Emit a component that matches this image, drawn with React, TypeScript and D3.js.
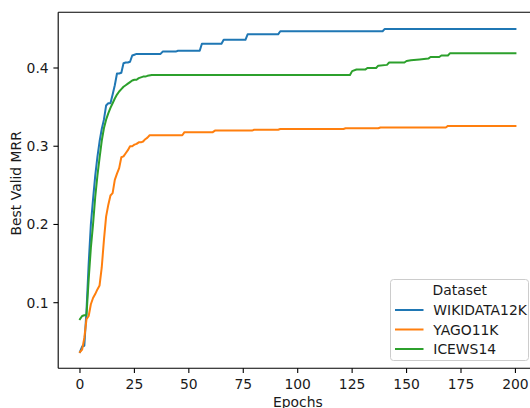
import { useEffect, useRef } from 'react'
import * as d3 from 'd3'

const WIDTH = 530
const HEIGHT = 408
const FONT = "'DejaVu Sans', sans-serif"
const FS = 13.9

// best valid MRR per epoch (step points)
const wikiEpochs = [0, 1, 2, 3, 4, 5, 6, 7, 8, 9, 10, 11, 12, 13, 14, 15, 16, 17, 18, 19, 20, 21, 22, 23, 24, 25, 26, 37, 38, 44, 45, 55, 56, 65, 66, 76, 77, 91, 92, 139, 140, 200]
const wikiValues = [0.037, 0.044, 0.045, 0.09, 0.15, 0.2, 0.232, 0.262, 0.286, 0.306, 0.322, 0.334, 0.352, 0.355, 0.355, 0.366, 0.378, 0.393, 0.393, 0.394, 0.406, 0.407, 0.407, 0.408, 0.416, 0.417, 0.418, 0.418, 0.421, 0.421, 0.422, 0.422, 0.431, 0.431, 0.436, 0.436, 0.443, 0.443, 0.447, 0.447, 0.45, 0.45]

const yagoEpochs = [0, 1, 2, 3, 4, 5, 6, 7, 8, 9, 10, 11, 12, 13, 14, 15, 16, 17, 18, 19, 20, 21, 22, 23, 24, 25, 26, 27, 28, 29, 30, 31, 32, 47, 48, 61, 62, 79, 80, 91, 92, 121, 122, 137, 138, 168, 169, 200]
const yagoValues = [0.037, 0.04, 0.055, 0.079, 0.083, 0.098, 0.106, 0.111, 0.117, 0.122, 0.145, 0.18, 0.21, 0.225, 0.237, 0.24, 0.257, 0.265, 0.272, 0.286, 0.287, 0.291, 0.295, 0.3, 0.3, 0.302, 0.303, 0.305, 0.305, 0.306, 0.309, 0.311, 0.314, 0.314, 0.318, 0.318, 0.32, 0.32, 0.321, 0.321, 0.322, 0.322, 0.323, 0.323, 0.324, 0.324, 0.326, 0.326]

const icewsEpochs = [0, 1, 2, 3, 4, 5, 6, 7, 8, 9, 10, 11, 12, 13, 14, 15, 16, 17, 18, 19, 20, 21, 22, 23, 24, 25, 26, 27, 28, 29, 30, 31, 33, 124, 125, 127, 131, 132, 136, 137, 141, 142, 149, 150, 152, 156, 160, 161, 165, 166, 169, 170, 200]
const icewsValues = [0.079, 0.083, 0.084, 0.084, 0.13, 0.17, 0.2, 0.235, 0.262, 0.285, 0.307, 0.323, 0.334, 0.342, 0.349, 0.355, 0.361, 0.366, 0.37, 0.373, 0.376, 0.378, 0.38, 0.382, 0.384, 0.385, 0.385, 0.387, 0.388, 0.389, 0.389, 0.39, 0.391, 0.391, 0.396, 0.398, 0.398, 0.4, 0.4, 0.403, 0.404, 0.407, 0.407, 0.409, 0.41, 0.411, 0.412, 0.414, 0.414, 0.416, 0.416, 0.419, 0.419]

const datasetNames = ['WIKIDATA12K', 'YAGO11K', 'ICEWS14']
const datasetColors = ['#1f77b4', '#ff7f0e', '#2ca02c']

const xTicks = [0, 25, 50, 75, 100, 125, 150, 175, 200]
const yTicks = [0.1, 0.2, 0.3, 0.4]

export default function App() {
  const svgRef = useRef<SVGSVGElement>(null)

  useEffect(() => {
    if (!svgRef.current) return
    const svg = d3.select(svgRef.current)
    svg.selectAll('*').remove()

    const x = d3.scaleLinear().domain([-10, 210]).range([58.2, 537.2])
    const y = d3.scaleLinear().domain([0.1, 0.4]).range([302.7, 68])
    const left = x(-10)
    const right = x(210)
    const top = 12.3
    const bottom = 368.3

    svg.append('rect').attr('width', WIDTH).attr('height', HEIGHT).attr('fill', 'white')

    const series = [
      { epochs: wikiEpochs, values: wikiValues },
      { epochs: yagoEpochs, values: yagoValues },
      { epochs: icewsEpochs, values: icewsValues },
    ]

    const line = d3.line<[number, number]>()
      .x(d => x(d[0]))
      .y(d => y(d[1]))

    series.forEach((s, i) => {
      const pts = s.epochs.map((e, j) => [e, s.values[j]] as [number, number])
      svg.append('path')
        .attr('d', line(pts))
        .attr('fill', 'none')
        .attr('stroke', datasetColors[i])
        .attr('stroke-width', 2)
        .attr('stroke-linejoin', 'round')
        .attr('stroke-linecap', 'square')
    })

    // spines
    const spines = svg.append('g').attr('stroke', 'black').attr('stroke-width', 1.1).attr('fill', 'none')
    spines.append('line').attr('x1', left).attr('x2', left).attr('y1', top).attr('y2', bottom)
    spines.append('line').attr('x1', left).attr('x2', right).attr('y1', bottom).attr('y2', bottom)
    spines.append('line').attr('x1', left).attr('x2', right).attr('y1', top).attr('y2', top)

    // x ticks
    const xg = svg.append('g')
    xTicks.forEach(t => {
      xg.append('line').attr('x1', x(t)).attr('x2', x(t)).attr('y1', bottom).attr('y2', bottom + 4.8)
        .attr('stroke', 'black').attr('stroke-width', 1.1)
      xg.append('text').attr('x', x(t)).attr('y', bottom + 20.5).attr('text-anchor', 'middle')
        .attr('font-family', FONT).attr('font-size', FS).attr('fill', '#1a1a1a').text(t)
    })

    // y ticks
    const yg = svg.append('g')
    yTicks.forEach(t => {
      yg.append('line').attr('x1', left - 4.8).attr('x2', left).attr('y1', y(t)).attr('y2', y(t))
        .attr('stroke', 'black').attr('stroke-width', 1.1)
      yg.append('text').attr('x', left - 9.5).attr('y', y(t)).attr('dy', '0.36em').attr('text-anchor', 'end')
        .attr('font-family', FONT).attr('font-size', FS).attr('fill', '#1a1a1a').text(d3.format('.1f')(t))
    })

    svg.append('text')
      .attr('x', 297.8).attr('y', 406.5).attr('text-anchor', 'middle')
      .attr('font-family', FONT).attr('font-size', FS).attr('fill', '#1a1a1a')
      .text('Epochs')

    svg.append('text')
      .attr('transform', 'translate(20.5,183.3) rotate(-90)')
      .attr('text-anchor', 'middle')
      .attr('font-family', FONT).attr('font-size', FS).attr('fill', '#1a1a1a')
      .text('Best Valid MRR')

    // legend
    const lg = svg.append('g')
    lg.append('rect')
      .attr('x', 390.5).attr('y', 279.5).attr('width', 138).attr('height', 81)
      .attr('rx', 3).attr('fill', 'white').attr('fill-opacity', 0.8)
      .attr('stroke', '#cccccc').attr('stroke-width', 1)
    lg.append('text').attr('x', 459.7).attr('y', 295).attr('text-anchor', 'middle')
      .attr('font-family', FONT).attr('font-size', FS).attr('fill', '#1a1a1a').text('Dataset')
    datasetNames.forEach((name, i) => {
      const ly = 310 + i * 19.5
      lg.append('line').attr('x1', 395).attr('x2', 423.5).attr('y1', ly).attr('y2', ly)
        .attr('stroke', datasetColors[i]).attr('stroke-width', 2)
      lg.append('text').attr('x', 433.3).attr('y', ly + 5)
        .attr('font-family', FONT).attr('font-size', FS).attr('fill', '#1a1a1a').text(name)
    })
  }, [])

  return (
    <svg
      ref={svgRef}
      width={WIDTH}
      height={HEIGHT}
      style={{ position: 'fixed', left: 0, top: 0, display: 'block' }}
    />
  )
}
